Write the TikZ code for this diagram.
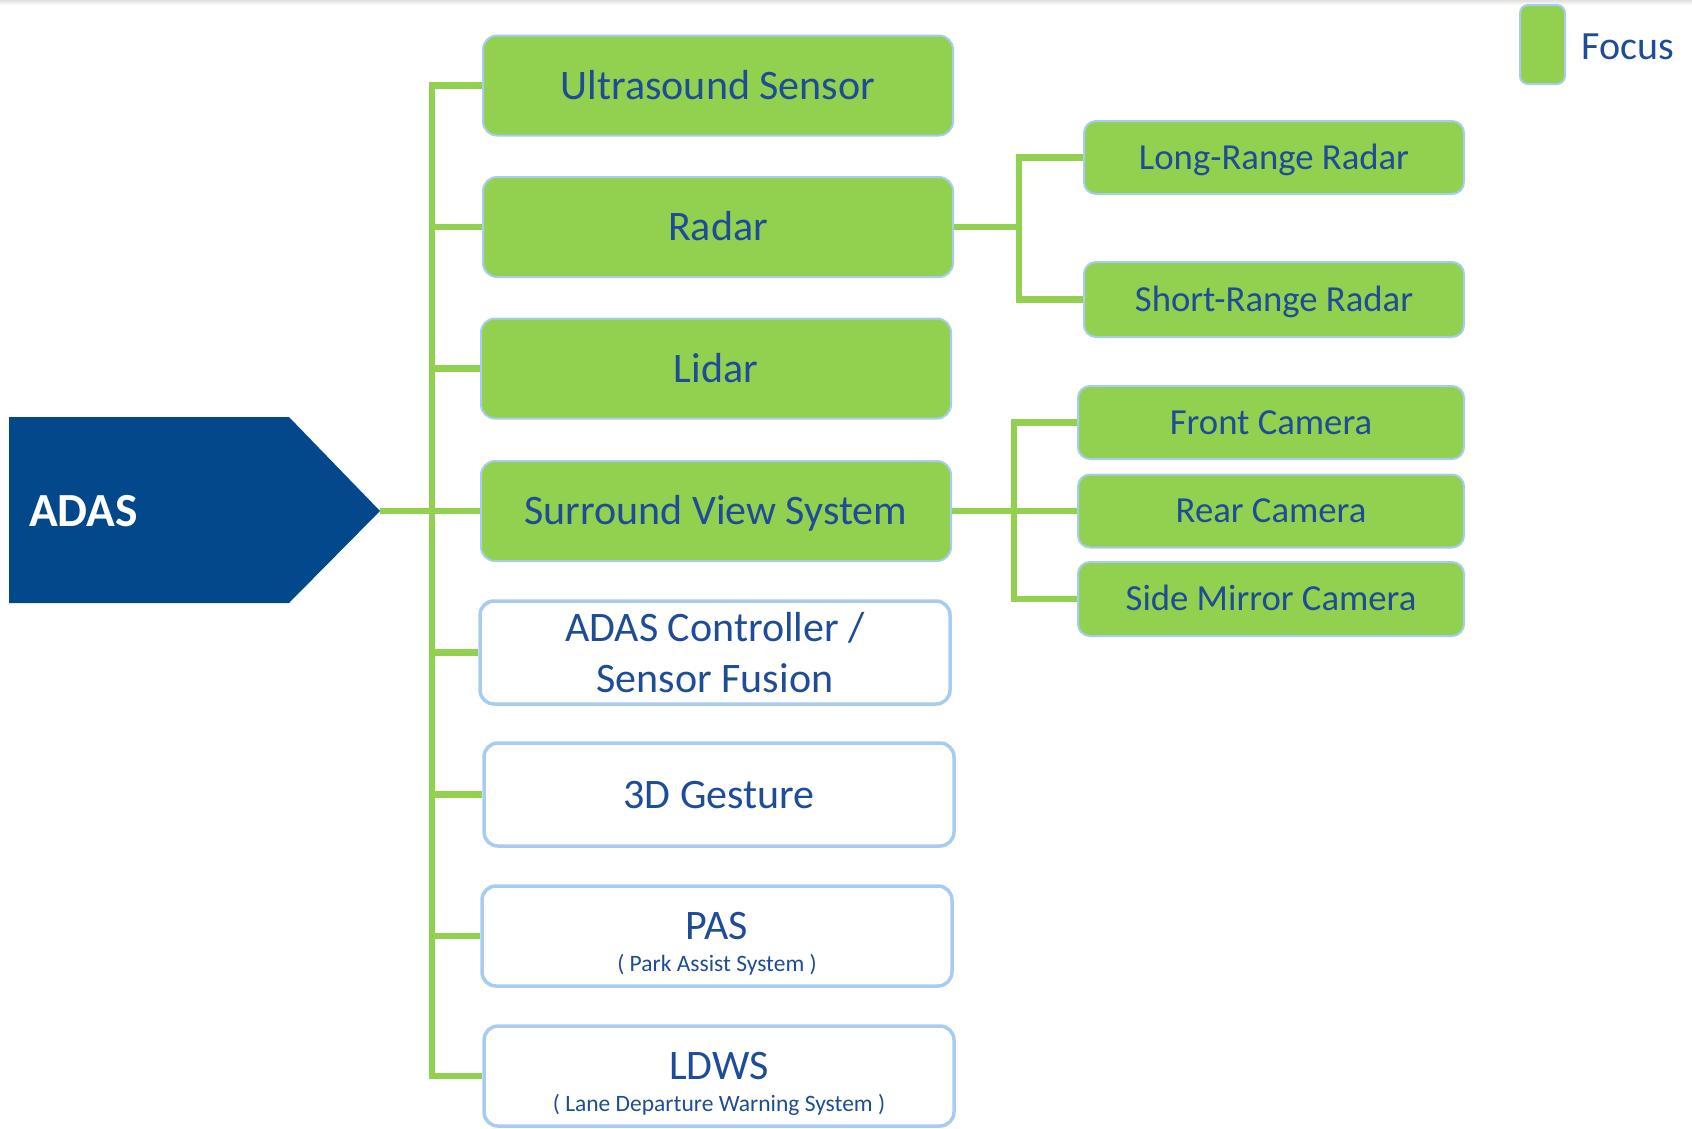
\documentclass[tikz,border=0pt]{standalone}
\usepackage{fontspec}
\setmainfont{Carlito}
\definecolor{leafgreen}{RGB}{146,208,80}
\definecolor{rimblue}{RGB}{168,204,240}
\definecolor{inkblue}{RGB}{30,76,150}
\definecolor{adasblue}{RGB}{4,72,140}
\begin{document}
\begin{tikzpicture}[x=1pt,y=-1pt,
  card/.style={rectangle, rounded corners=14pt, draw=rimblue, text=inkblue, align=center, inner sep=0pt},
  focus/.style={card, fill=leafgreen, line width=2pt},
  other/.style={card, fill=white, line width=3.5pt},
  mainsize/.style={minimum width=470pt, minimum height=100pt, font=\fontsize{42}{51}\selectfont},
  subsize/.style={minimum width=380pt, minimum height=73pt, rounded corners=12pt, font=\fontsize{36.7}{44}\selectfont},
  mainline/.style={text height=27pt, text depth=0pt},
  subline/.style={text height=23.6pt, text depth=0pt},
  link/.style={draw=leafgreen, line width=6.5pt},
]
\useasboundingbox (0,0) rectangle (1692,1128);
\fill[white] (0,0) rectangle (1692,1128);
% soft shadow along the top edge
\shade[top color=black!12, bottom color=white] (0,0) rectangle (1692,5);

% ADAS arrow block
\fill[adasblue] (9,417) -- (289,417) -- (380,511) -- (289,603) -- (9,603) -- cycle;
\node[anchor=west, inner sep=0pt, text=white, font=\bfseries\fontsize{47.5}{56}\selectfont] (adas) at (29,511) {ADAS};
\coordinate (adastip) at (380,511);
\coordinate (trunk) at (432,0);
\coordinate (radarfork) at (1019,0);
\coordinate (camfork) at (1014,0);

% main column
\node[focus, mainsize, mainline] (us) at (718,85.5) {Ultrasound Sensor};
\node[focus, mainsize, mainline] (radar) at (718,227) {Radar};
\node[focus, mainsize, mainline] (lidar) at (716,368.5) {Lidar};
\node[focus, mainsize, mainline] (svs) at (716,511) {Surround View System};
\node[other, mainsize, minimum height=103pt] (ctrl) at (715,652.5) {ADAS Controller /\\Sensor Fusion};
\node[other, mainsize, mainline, minimum height=103pt] (gest) at (719,794.5) {3D Gesture};
\node[other, mainsize] (pas) at (717,936) {\rule{0pt}{43pt}PAS\\[-19pt]{\fontsize{23.5}{28}\selectfont ( Park Assist System )}};
\node[other, mainsize] (ldws) at (719,1076) {\rule{0pt}{43pt}LDWS\\[-19pt]{\fontsize{23.5}{28}\selectfont ( Lane Departure Warning System )}};

% radar branch
\node[focus, subsize, subline] (lrr) at (1274,157.5) {Long-Range Radar};
\node[focus, subsize, subline, minimum height=75pt] (srr) at (1274,299.5) {Short-Range Radar};

% camera branch
\node[focus, subsize, subline, minimum width=386pt] (front) at (1271,422.5) {Front Camera};
\node[focus, subsize, subline, minimum width=386pt] (rear) at (1271,511) {Rear Camera};
\node[focus, subsize, subline, minimum width=386pt, minimum height=74pt] (side) at (1271,599) {Side Mirror Camera};

% legend
\node[focus, rounded corners=8pt, minimum width=45pt, minimum height=79pt] (key) at (1542.5,44.5) {};
\node[anchor=west, inner sep=0pt, text=inkblue, font=\fontsize{40}{48}\selectfont] (keytext) at (1581,47) {Focus};

% connectors
\draw[link] (us.west) -- (us.west -| trunk) -- (ldws.west -| trunk) -- (ldws.west);
\draw[link] (adastip) -- (svs.west);
\foreach \b in {radar, lidar, ctrl, gest, pas}
  \draw[link] (\b.west -| trunk) -- (\b.west);
\draw[link] (radar.east) -- (radar.east -| radarfork);
\draw[link] (lrr.west) -- (lrr.west -| radarfork) -- (srr.west -| radarfork) -- (srr.west);
\draw[link] (svs.east) -- (rear.west);
\draw[link] (front.west) -- (front.west -| camfork) -- (side.west -| camfork) -- (side.west);
\end{tikzpicture}
\end{document}
